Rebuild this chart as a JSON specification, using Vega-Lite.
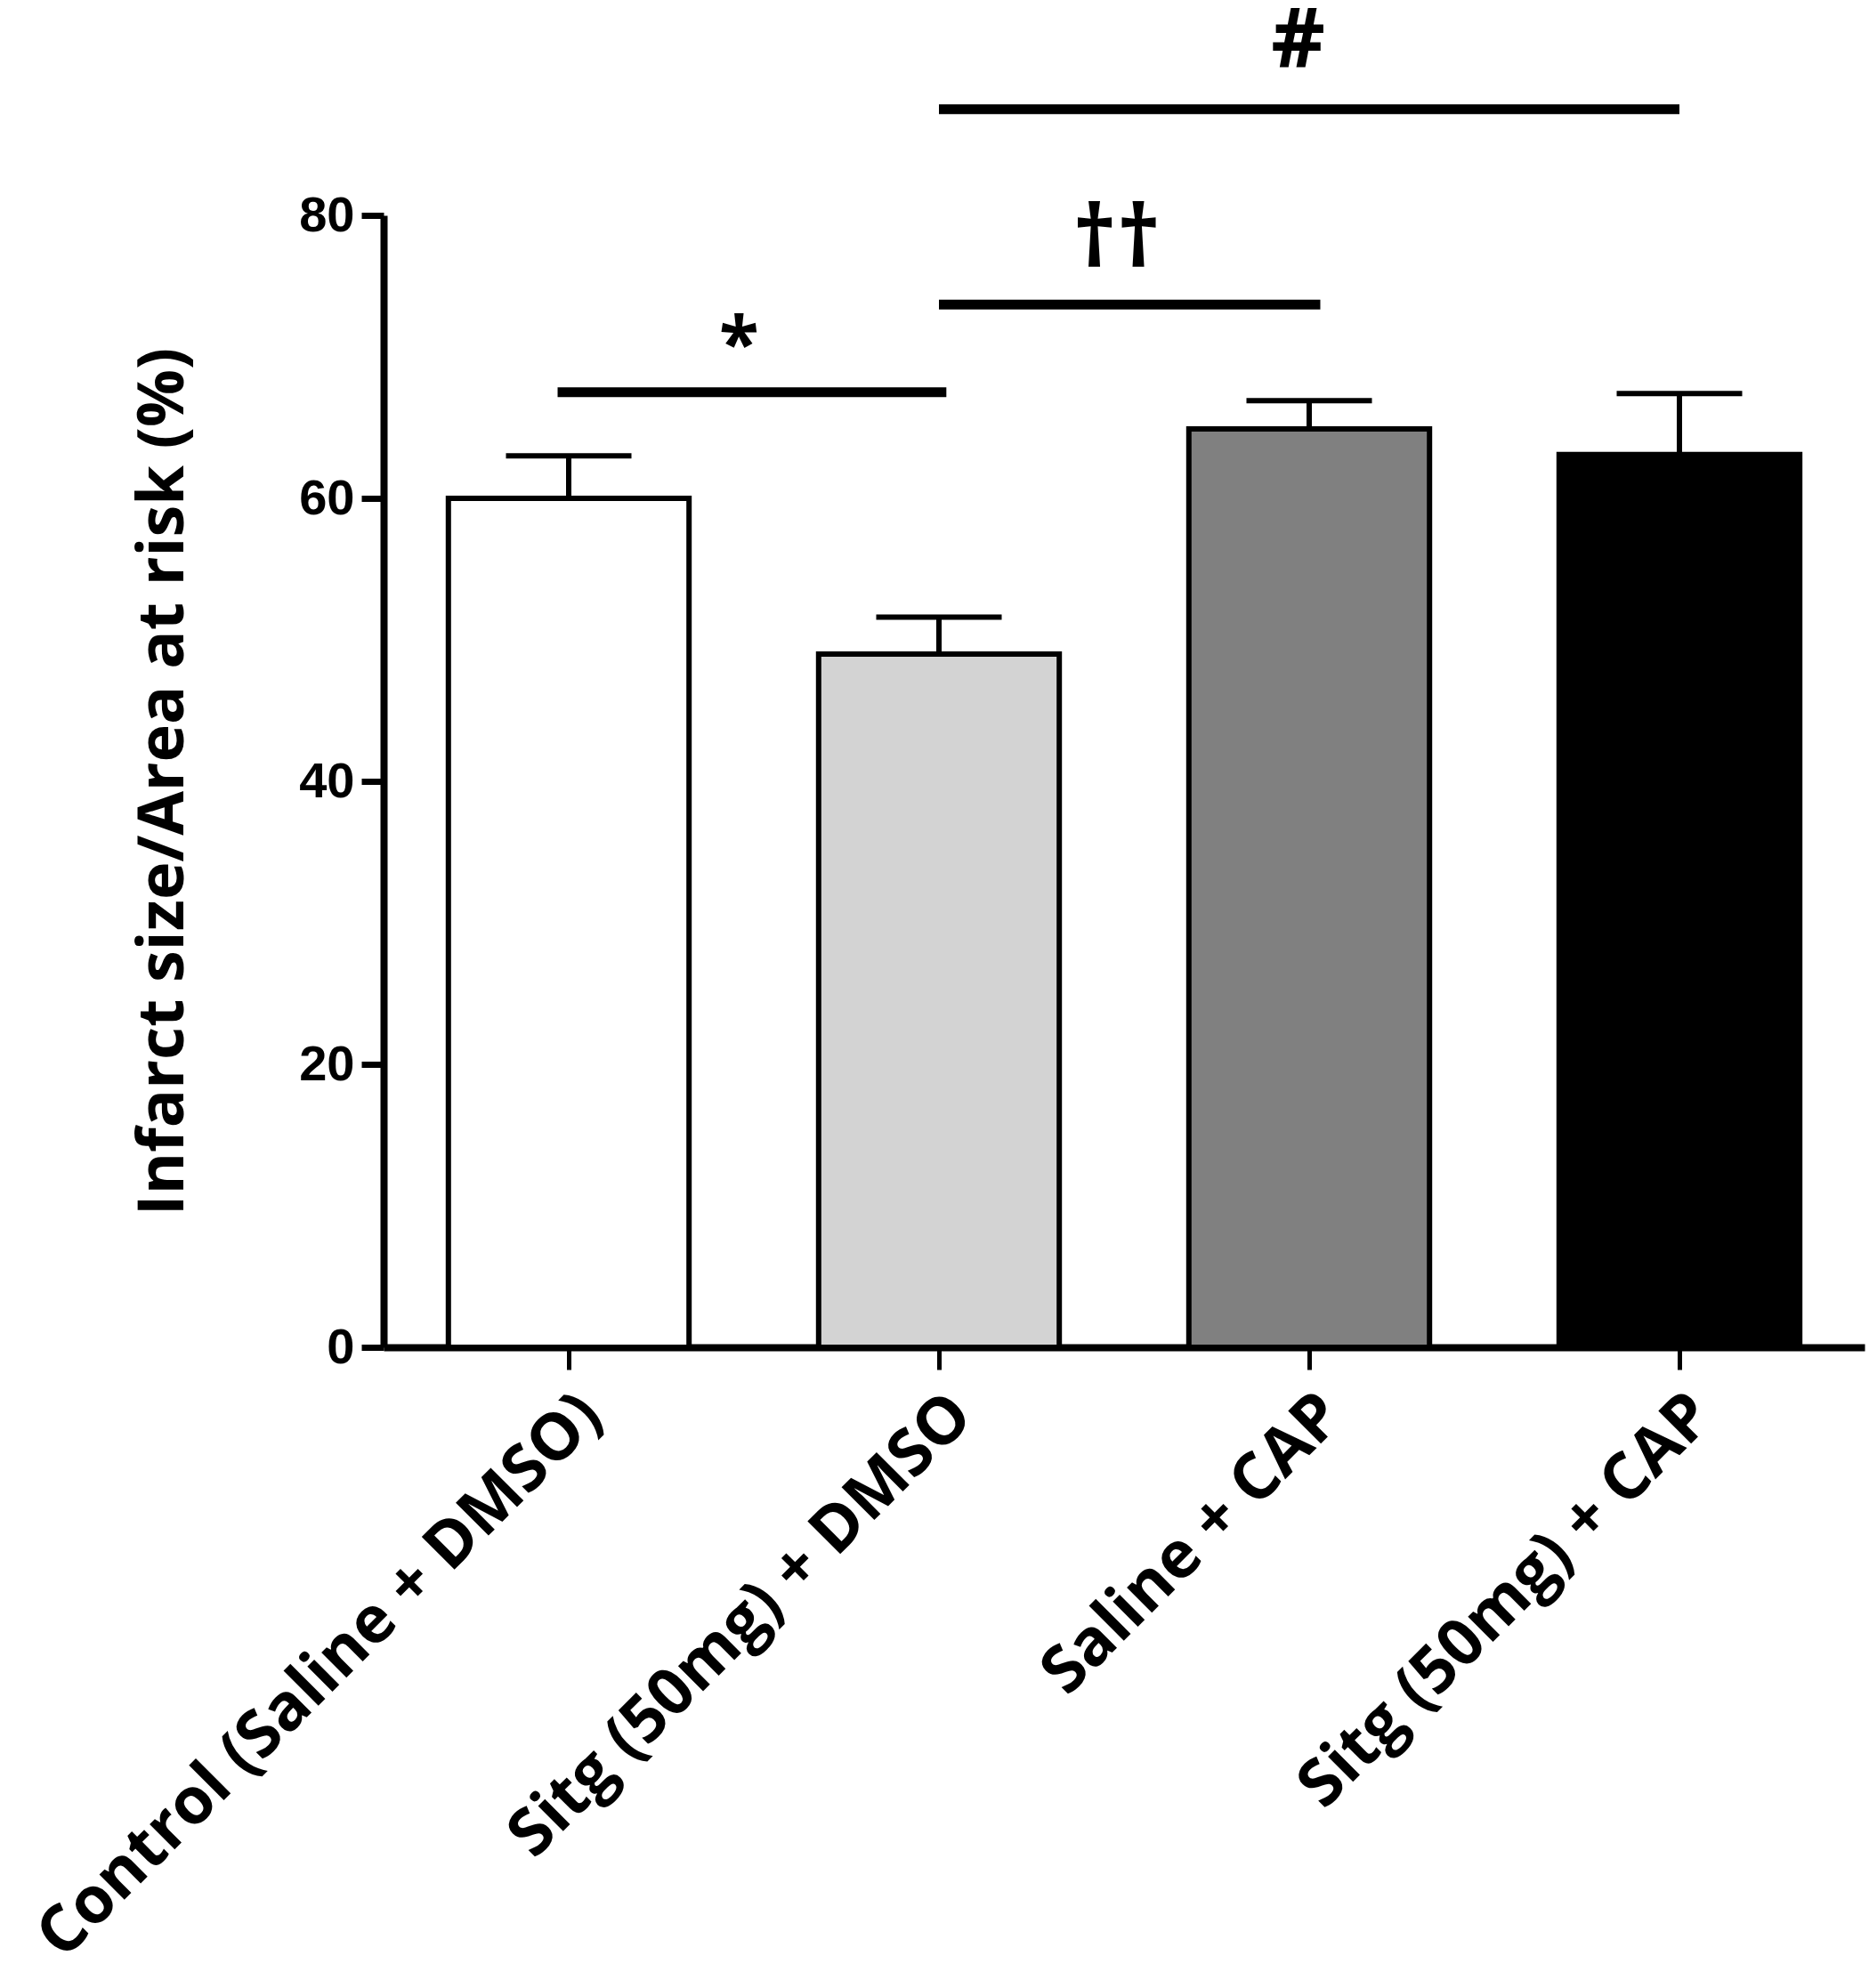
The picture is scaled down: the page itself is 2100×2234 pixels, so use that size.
{
  "$schema": "https://vega.github.io/schema/vega-lite/v6.json",
  "autosize": {"type": "none"},
  "width": 1664,
  "height": 1272,
  "padding": {"left": 431, "top": 242, "right": 5, "bottom": 720},
  "background": "white",
  "config": {"view": {"stroke": null}},
  "datasets": {
    "bars": [
      {"group": "Control (Saline + DMSO)", "mean": 60.0, "upper": 63.0},
      {"group": "Sitg (50mg) + DMSO", "mean": 49.0, "upper": 51.6},
      {"group": "Saline + CAP", "mean": 64.9, "upper": 66.9},
      {"group": "Sitg (50mg) + CAP", "mean": 63.1, "upper": 67.4}
    ],
    "sig": [
      {"label": "*", "x1": 0.47, "x2": 1.52, "y": 67.5, "tx": 0.96, "ty": 70.7},
      {"label": "††", "x1": 1.5, "x2": 2.53, "y": 73.7, "tx": 1.98, "ty": 78.2},
      {"label": "#", "x1": 1.5, "x2": 3.5, "y": 87.5, "tx": 2.47, "ty": 92.2}
    ]
  },
  "layer": [
    {
      "data": {"name": "bars"},
      "layer": [
        {
          "mark": {"type": "bar", "stroke": "black", "strokeWidth": 6},
          "encoding": {
            "x": {
              "field": "group", "type": "nominal", "sort": null,
              "scale": {"paddingInner": 0.35, "paddingOuter": 0.175},
              "axis": {
                "title": null, "labelAngle": -45, "labelFont": "Open Sans", "labelFontWeight": "bold",
                "labelFontSize": 73, "labelColor": "black", "labelPadding": 14, "labelLimit": 2000,
                "tickSize": 25, "tickWidth": 5, "tickColor": "black",
                "domainColor": "black", "domainWidth": 8
              }
            },
            "y": {
              "field": "mean", "type": "quantitative",
              "scale": {"domain": [0, 80], "nice": false},
              "axis": {
                "title": "Infarct size/Area at risk (%)", "values": [0, 20, 40, 60, 80], "grid": false,
                "labelFont": "Liberation Sans", "labelFontWeight": "bold", "labelFontSize": 56, "labelColor": "black",
                "labelPadding": 8, "tickSize": 25, "tickWidth": 7, "tickColor": "black",
                "domainColor": "black", "domainWidth": 8,
                "titleFont": "Open Sans", "titleFontWeight": "bold", "titleFontSize": 72, "titleColor": "black",
                "titleX": -248, "titleY": 636, "titleAngle": -90, "titleAlign": "center", "titleBaseline": "middle"
              }
            },
            "fill": {
              "field": "group", "type": "nominal", "sort": null, "legend": null,
              "scale": {
                "domain": ["Control (Saline + DMSO)", "Sitg (50mg) + DMSO", "Saline + CAP", "Sitg (50mg) + CAP"],
                "range": ["#ffffff", "#d3d3d3", "#808080", "#000000"]
              }
            }
          }
        },
        {
          "mark": {"type": "rule", "color": "black", "strokeWidth": 6, "opacity": 1},
          "encoding": {
            "x": {"field": "group", "type": "nominal", "sort": null},
            "y": {"field": "mean", "type": "quantitative"},
            "y2": {"field": "upper"}
          }
        },
        {
          "mark": {"type": "tick", "color": "black", "size": 141, "thickness": 6, "opacity": 1},
          "encoding": {
            "x": {"field": "group", "type": "nominal", "sort": null},
            "y": {"field": "upper", "type": "quantitative"}
          }
        }
      ]
    },
    {
      "data": {"name": "sig"},
      "layer": [
        {
          "mark": {"type": "rule", "color": "black", "strokeWidth": 11},
          "encoding": {
            "x": {"field": "x1", "type": "quantitative", "scale": {"domain": [0, 4], "nice": false, "zero": false}, "axis": null},
            "x2": {"field": "x2"},
            "y": {"field": "y", "type": "quantitative"}
          }
        },
        {
          "transform": [{"filter": "datum.label == '*'"}],
          "mark": {"type": "text", "font": "Open Sans", "fontWeight": "bold", "fontSize": 82, "baseline": "middle", "align": "center", "color": "black"},
          "encoding": {
            "x": {"field": "tx", "type": "quantitative", "scale": {"domain": [0, 4], "nice": false, "zero": false}, "axis": null},
            "y": {"field": "ty", "type": "quantitative"},
            "text": {"field": "label"}
          }
        },
        {
          "transform": [{"filter": "datum.label == '††'"}],
          "mark": {"type": "text", "font": "Open Sans", "fontWeight": "bold", "fontSize": 96, "baseline": "middle", "align": "center", "color": "black"},
          "encoding": {
            "x": {"field": "tx", "type": "quantitative", "scale": {"domain": [0, 4], "nice": false, "zero": false}, "axis": null},
            "y": {"field": "ty", "type": "quantitative"},
            "text": {"field": "label"}
          }
        },
        {
          "transform": [{"filter": "datum.label == '#'"}],
          "mark": {"type": "text", "font": "Open Sans", "fontWeight": "bold", "fontSize": 94, "baseline": "middle", "align": "center", "color": "black"},
          "encoding": {
            "x": {"field": "tx", "type": "quantitative", "scale": {"domain": [0, 4], "nice": false, "zero": false}, "axis": null},
            "y": {"field": "ty", "type": "quantitative"},
            "text": {"field": "label"}
          }
        }
      ]
    }
  ],
  "resolve": {"scale": {"x": "independent", "fill": "independent"}}
}
